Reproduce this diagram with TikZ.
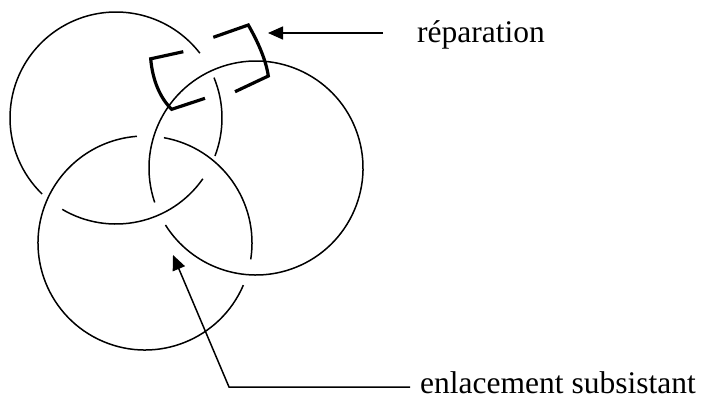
\documentclass[tikz,border=0pt]{standalone}
\usepackage{fontspec}
\setmainfont{Liberation Serif}
\usetikzlibrary{arrows.meta}
\begin{document}
\begin{tikzpicture}[x=1pt,y=-1pt,
  strand/.style={line width=1.5pt},
  repair/.style={line width=3.2pt,line join=miter},
  pointer/.style={line width=1.5pt,-{Triangle[length=15pt,width=13pt]}},
  lbl/.style={font=\fontsize{31.5}{36}\selectfont,inner sep=0pt,anchor=base west}]
\useasboundingbox (0,0) rectangle (711,405);
% circle A
\begin{scope}[shift={(116,118)}]
  \draw[strand] (-22.4:106) arc[start angle=-22.4,end angle=21,radius=106];
  \draw[strand] (35:106) arc[start angle=35,end angle=120.5,radius=106];
  \draw[strand] (134.2:106) arc[start angle=134.2,end angle=322.3,radius=106];
\end{scope}
% circle B
\begin{scope}[shift={(256,168)}]
  \draw[strand] (161.2:107) arc[start angle=161.2,end angle=507.8,radius=107];
\end{scope}
% circle C
\begin{scope}[shift={(145,243)}]
  \draw[strand] (-79.8:107) arc[start angle=-79.8,end angle=8.8,radius=107];
  \draw[strand] (23.2:107) arc[start angle=23.2,end angle=265.7,radius=107];
\end{scope}
% repair brackets
\draw[repair] (183.3,51.7) -- (150.7,58.8) .. controls (152.5,80) and (160,98) .. (171.7,109.3) -- (205,98.3);
\draw[repair] (213.3,37.3) -- (248.3,25) .. controls (258,42) and (266,60) .. (268.3,76) -- (235,91.7);
% labels
\node[lbl] (rep) at (417,42) {réparation};
\node[lbl] (enl) at (420,393.5) {enlacement subsistant};
% pointers
\coordinate (repstart) at (383,33);
\coordinate (reptip) at (268,33);
\draw[pointer] (repstart) -- (reptip);
\coordinate (enlstart) at (410,387);
\coordinate (enlbend) at (229,387);
\coordinate (enltip) at (173,255);
\draw[pointer] (enlstart) -- (enlbend) -- (enltip);
\end{tikzpicture}
\end{document}
